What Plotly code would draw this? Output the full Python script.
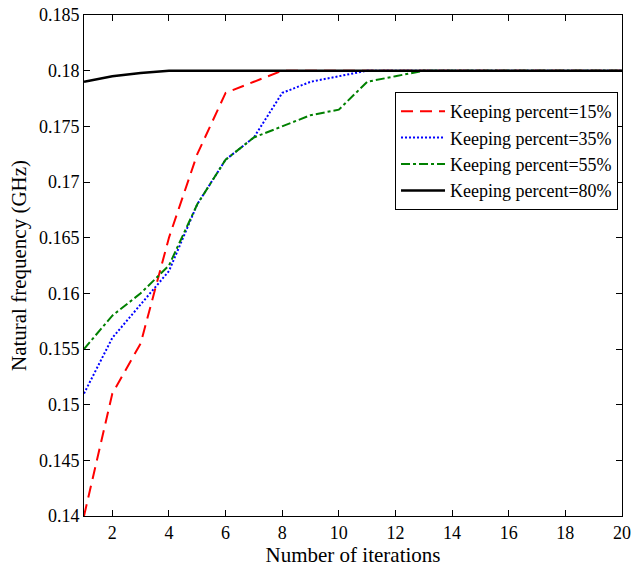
import plotly.graph_objects as go

iterations = list(range(1, 21))
keep15 = [0.14, 0.151, 0.1555, 0.165, 0.1725, 0.178, 0.179, 0.18, 0.18, 0.18,
          0.18, 0.18, 0.18, 0.18, 0.18, 0.18, 0.18, 0.18, 0.18, 0.18]
keep35 = [0.151, 0.156, 0.159, 0.162, 0.168, 0.172, 0.174, 0.178, 0.179, 0.1795,
          0.18, 0.18, 0.18, 0.18, 0.18, 0.18, 0.18, 0.18, 0.18, 0.18]
keep55 = [0.155, 0.158, 0.16, 0.1625, 0.168, 0.172, 0.174, 0.175, 0.176, 0.1765,
          0.179, 0.1795, 0.18, 0.18, 0.18, 0.18, 0.18, 0.18, 0.18, 0.18]
keep80 = [0.179, 0.1795, 0.1798, 0.18, 0.18, 0.18, 0.18, 0.18, 0.18, 0.18,
          0.18, 0.18, 0.18, 0.18, 0.18, 0.18, 0.18, 0.18, 0.18, 0.18]
names = ["Keeping percent=15%", "Keeping percent=35%", "Keeping percent=55%", "Keeping percent=80%"]
x_ticks = [2, 4, 6, 8, 10, 12, 14, 16, 18, 20]
y_ticks = [0.14, 0.145, 0.15, 0.155, 0.16, 0.165, 0.17, 0.175, 0.18, 0.185]

FONT = "Liberation Serif, Times New Roman, serif"

fig = go.Figure()
styles = [
    dict(color="#ff0000", width=2, dash="12px,7px"),
    dict(color="#0000ff", width=2, dash="2px,2px"),
    dict(color="#008000", width=2, dash="9px,3px,3px,3px"),
    dict(color="#000000", width=2.5, dash="solid"),
]
for ys, nm, st in zip([keep15, keep35, keep55, keep80], names, styles):
    fig.add_trace(go.Scatter(x=iterations, y=ys, mode="lines", name=nm, line=st))

axis_common = dict(
    showgrid=False, zeroline=False, showline=True, linecolor="black", linewidth=1,
    mirror="ticks", ticks="inside", ticklen=6, tickcolor="black", automargin=False,
    tickfont=dict(family=FONT, size=18, color="black"),
)
fig.update_layout(
    width=633, height=569,
    margin=dict(l=84, r=11, t=15, b=53),
    paper_bgcolor="white", plot_bgcolor="white",
    font=dict(family=FONT, color="black"),
    xaxis=dict(range=[1, 20], tickvals=x_ticks,
               title=dict(text="Number of iterations", font=dict(family=FONT, size=21), standoff=4),
               **axis_common),
    yaxis=dict(range=[0.14, 0.185], tickvals=y_ticks,
               ticktext=[f"{v:g}" for v in y_ticks],
               title=dict(text="Natural frequency (GHz)", font=dict(family=FONT, size=21), standoff=6),
               **axis_common),
    legend=dict(x=0.9926, y=0.8463, xanchor="right", yanchor="top",
                bordercolor="black", borderwidth=1, bgcolor="white",
                font=dict(family=FONT, size=18), tracegroupgap=0,
                itemwidth=44),
    showlegend=True,
)
fig.write_html("out.html")
